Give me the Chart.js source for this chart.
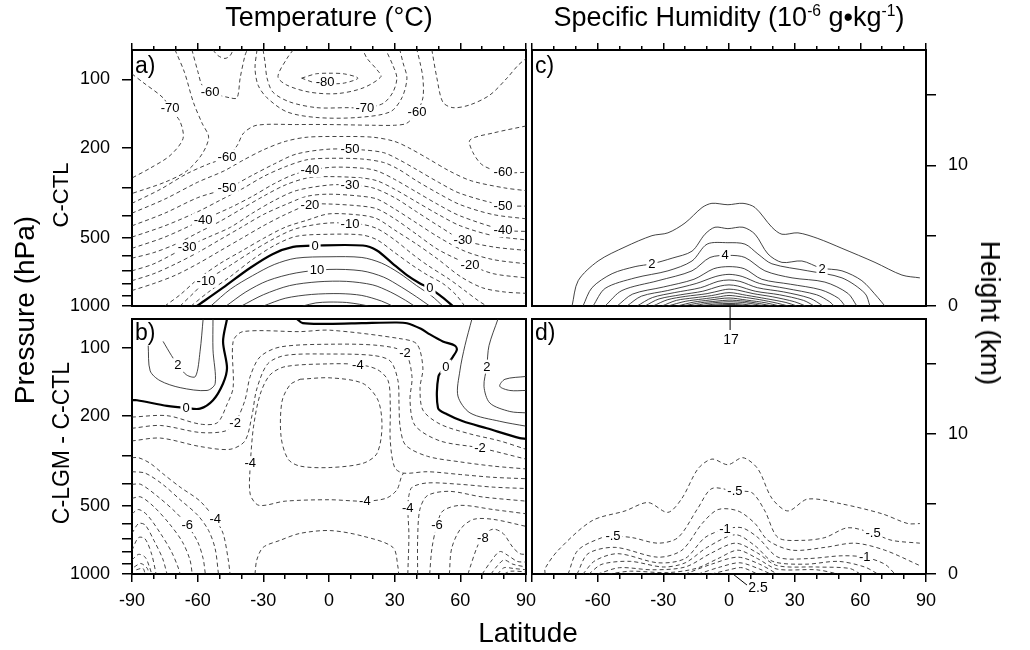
<!DOCTYPE html>
<html>
<head>
<meta charset="utf-8">
<script src="https://cdn.jsdelivr.net/npm/chart.js@4.4.1/dist/chart.umd.min.js"></script>
<style>
body { margin: 0; width: 1030px; height: 650px; background: #fff; position: relative; overflow: hidden;
       font-family: "Liberation Sans", Arial, Helvetica, sans-serif; color: #000; }
canvas { position: absolute; left: 0; top: 0; }
.t { position: absolute; white-space: nowrap; line-height: 1; transform: translate(-50%, -50%); }
.up { transform: translate(-50%, -50%) rotate(-90deg); }
.down { transform: translate(-50%, -50%) rotate(90deg); }
.p { position: absolute; line-height: 1; font-size: 23px; }
sup { font-size: 58%; vertical-align: 10px; }
</style>
</head>
<body>
<canvas id="panelA" width="1030" height="650"></canvas>
<canvas id="panelB" width="1030" height="650"></canvas>
<canvas id="panelC" width="1030" height="650"></canvas>
<canvas id="panelD" width="1030" height="650"></canvas>

<div class="t" style="left:329px;top:17px;font-size:27px">Temperature (°C)</div>
<div class="t" style="left:729px;top:17px;font-size:27px">Specific Humidity (10<sup>-6</sup> g•kg<sup>-1</sup>)</div>
<div class="t" style="left:528px;top:633px;font-size:28px">Latitude</div>
<div class="t up" style="left:25px;top:310px;font-size:28px">Pressure (hPa)</div>
<div class="t up" style="left:61px;top:195px;font-size:22px">C-CTL</div>
<div class="t up" style="left:61px;top:443px;font-size:23px">C-LGM - C-CTL</div>
<div class="t down" style="left:990px;top:313px;font-size:28px">Height (km)</div>
<div class="p" style="left:135px;top:54px">a)</div>
<div class="p" style="left:135px;top:321px">b)</div>
<div class="p" style="left:535px;top:54px">c)</div>
<div class="p" style="left:535px;top:321px">d)</div>

<script>
// axis values
const latMajor = [-90, -60, -30, 0, 30, 60, 90];
const latMinor = [-80, -70, -50, -40, -20, -10, 10, 20, 40, 50, 70, 80];
const latLabeledLeft = [-90, -60, -30, 0, 30, 60, 90];
const latLabeledRight = [-60, -30, 0, 30, 60, 90];
const pressureTicks = [100, 200, 300, 400, 500, 600, 700, 800, 900, 1000];
const pressureLabeled = [100, 200, 500, 1000];
const heightTicks = [0, 5, 10, 15];
const heightLabeled = [0, 10];

// contours: [level, [[latitude, height km], ...]]
const tempContours = [
  [25, [[-12,0],[-6,0.22],[0,0.28],[8,0.25],[14,0.12],[18,0]]],
  [20, [[-30,0],[-20,0.55],[-8,0.82],[5,0.88],[15,0.75],[24,0.35],[29,0]]],
  [15, [[-40,0],[-30,0.8],[-18,1.45],[-5,1.72],[8,1.75],[20,1.5],[28,1.0],[35,0.4],[39,0]]],
  [10, [[-47,0],[-38,1.0],[-28,1.8],[-15,2.35],[0,2.6],[15,2.5],[25,2.05],[33,1.35],[40,0.65],[46,0]]],
  [5, [[-54,0],[-45,1.2],[-35,2.15],[-25,2.95],[-15,3.4],[0,3.5],[15,3.45],[24,3.05],[32,2.35],[40,1.45],[47,0.7],[52,0]]],
  [0, [[-60.3,0],[-48.4,1.3],[-36.1,2.7],[-25.6,3.7],[-16.4,4.2],[-6.4,4.3],[15.5,4.3],[21.9,3.95],[29.2,3.0],[35.6,2.2],[41.6,1.6],[46.1,1.25],[50.7,0.75],[56.6,0]]],
  [-5, [[-63,0],[-55,1.0],[-45,2.1],[-35,3.3],[-25,4.3],[-15,4.95],[0,5.1],[15,5.05],[22,4.7],[30,3.8],[38,2.9],[45,2.2],[52,1.6],[58,0.8],[62,0]]],
  [-10, [[-68,0],[-62,0.9],[-56,1.8],[-45,2.9],[-35,3.9],[-25,4.8],[-15,5.5],[0,5.9],[15,5.8],[22,5.5],[30,4.7],[38,3.7],[45,2.9],[55,1.9],[62,1.1],[68,0.4],[72,0]]],
  [-15, [[-75,0],[-68,0.8],[-60,1.9],[-50,3.0],[-40,3.9],[-30,4.8],[-20,5.6],[-10,6.1],[0,6.55],[15,6.45],[22,6.2],[30,5.4],[40,4.4],[50,3.3],[60,2.1],[70,1.3],[80,1.0],[90,0.9]]],
  [-20, [[-90,1.1],[-80,1.6],[-70,2.2],[-60,3.0],[-50,3.9],[-40,4.8],[-30,5.7],[-20,6.5],[-9,7.2],[0,7.25],[15,7.1],[22,6.9],[30,6.2],[40,5.1],[50,4.0],[64,2.95],[75,2.3],[90,2.0]]],
  [-25, [[-90,1.8],[-80,2.3],[-70,3.0],[-60,3.8],[-50,4.7],[-40,5.6],[-30,6.5],[-20,7.2],[-10,7.8],[0,7.95],[15,7.8],[22,7.6],[30,6.9],[40,5.9],[50,4.9],[62,3.9],[75,3.3],[90,3.0]]],
  [-30, [[-90,2.5],[-80,3.0],[-65,4.2],[-55,4.9],[-45,5.6],[-35,6.6],[-25,7.5],[-15,8.2],[0,8.6],[10,8.6],[20,8.4],[30,7.7],[40,6.7],[50,5.7],[61,4.7],[75,4.2],[90,3.95]]],
  [-35, [[-90,3.4],[-80,3.8],[-70,4.4],[-60,5.2],[-50,6.0],[-40,6.9],[-30,7.8],[-20,8.6],[-10,9.1],[0,9.2],[15,9.1],[22,8.9],[30,8.3],[40,7.4],[50,6.5],[60,5.7],[75,5.0],[90,4.7]]],
  [-40, [[-90,4.1],[-75,4.9],[-58,6.1],[-45,7.0],[-35,7.8],[-25,8.7],[-15,9.4],[0,9.85],[15,9.8],[22,9.6],[30,9.0],[40,8.1],[50,7.2],[60,6.4],[80,5.4],[90,5.3]]],
  [-45, [[-90,4.9],[-75,5.7],[-60,6.7],[-50,7.5],[-40,8.3],[-30,9.2],[-20,9.9],[-10,10.4],[0,10.5],[15,10.45],[25,10.2],[32,9.7],[40,8.9],[50,8.0],[60,7.2],[75,6.5],[90,6.2]]],
  [-50, [[-90,5.7],[-75,6.6],[-60,7.7],[-46,8.4],[-35,9.3],[-25,10.1],[-15,10.8],[0,11.15],[15,11.1],[25,10.9],[32,10.4],[40,9.7],[50,8.8],[60,8.0],[80,7.15],[90,7.1]]],
  [-55, [[-90,6.6],[-75,7.6],[-60,8.8],[-48,9.6],[-40,10.3],[-30,11.1],[-20,11.7],[-10,12.0],[5,12.05],[20,12.0],[30,11.7],[37,11.2],[45,10.5],[55,9.6],[65,8.9],[80,8.4],[90,8.2]]],
  [-60, [[-90,7.3],[-77,8.3],[-65,9.4],[-55,10.1],[-46.6,10.6],[-42,11.4],[-39,12.3],[-33,12.85],[-15,12.9],[0,12.9],[20,12.85],[30,12.85],[35.6,13.0],[40.2,13.8],[42.9,14.8],[42.9,16.2],[41.6,17.3],[40.2,18.2]]],
  [-60, [[-62.6,18.2],[-59.8,16.6],[-58,15.7],[-54.3,15.2],[-45.2,14.8],[-42,14.8],[-40.6,16.2],[-38.4,17.8],[-37.4,18.2]]],
  [-60, [[90,12.8],[75,12.3],[64.4,11.8],[65.8,10.9],[70.3,10.0],[79.5,9.5],[90,9.5]]],
  [-55, [[-53,18.2],[-50.7,17.8],[-47.5,17.6],[-45.2,17.8],[-43.8,18.2]]],
  [-55, [[47,18.2],[49.3,16.2],[52,14.5],[56.6,14.1],[64.4,14.3],[73.5,15.0],[81.3,16.2],[86.3,17.1],[90,17.6]]],
  [-65, [[-32.9,18.2],[-33.8,16.9],[-32.4,15.7],[-28.3,14.8],[-19.2,13.8],[-5.5,13.4],[12.8,13.4],[27.9,13.8],[33.3,14.8],[35.6,16.2],[33.8,17.3],[32.4,18.2]]],
  [-65, [[-70.3,18.2],[-66,16.6],[-62,14.5],[-58,13.0],[-55,12.0],[-58,10.8],[-65,9.6],[-75,8.8],[-90,8.0]]],
  [-70, [[-30.1,18.2],[-29.2,17.3],[-28.3,16.2],[-25.6,15.2],[-17.8,14.5],[-5.5,14.1],[8.2,14.1],[16.4,14.1],[24.7,14.4],[29.2,15.2],[31,16.2],[29.2,17.1],[26,18.2]]],
  [-70, [[-90,16.5],[-85,15.9],[-75.8,14.8],[-72.6,14.05],[-68,13.1],[-66.7,11.9],[-72.6,10.7],[-81.7,9.8],[-90,9.1]]],
  [-75, [[-16.4,18.2],[-19.2,17.6],[-23.3,16.3],[-19.2,15.7],[-8.7,15.2],[3.7,15.1],[15.5,15.5],[23.7,16.3],[21.9,16.8],[17.4,17.6],[15.5,18.2]]],
  [-80, [[-12.5,16.2],[-6,16.5],[0,16.55],[7,16.5],[13.2,16.2],[7,15.85],[0,15.8],[-6,15.85],[-12.5,16.2]]]
];
const tempLabels = [
  ['-80',-1.8,15.95],['-70',16.4,14.1],['-60',40.2,13.8],['-60',-54.3,15.2],['-70',-72.6,14.05],
  ['-60',-46.6,10.6],['-50',-46.6,8.4],['-40',-57.5,6.1],['-30',-64.8,4.2],['-10',-56.2,1.8],
  ['-50',9.6,11.15],['-40',-8.7,9.65],['-30',9.6,8.6],['-20',-8.7,7.2],['-10',9.6,5.85],['0',-6.4,4.3],['10',-5.5,2.55],
  ['-60',79.5,9.5],['-50',79.5,7.15],['-40',79.5,5.4],['-30',61.2,4.7],['-20',64.4,2.95],['0',46.1,1.25]
];

const dTempContours = [
  [3, [[90,14.1],[80.4,13.9],[78,13.4],[82.6,13.1],[90,13.1]]],
  [2, [[77.2,18.2],[73.1,16.3],[72.1,14.8],[70.8,13.4],[73.5,12.2],[82.6,11.6],[90,11.5]]],
  [1, [[65.3,18.2],[62.1,16.3],[59.8,14.5],[58.9,12.7],[64.4,11.5],[78,10.9],[90,10.55]]],
  [2, [[-75.8,16.6],[-72,15.6],[-69,14.9],[-65,14.2],[-61,14.1],[-58.9,15.9],[-57.5,18.2]]],
  [1, [[-82.6,16.3],[-81.7,14.5],[-77.2,13.8],[-68,13.3],[-55.7,13.1],[-52,13.6],[-53,16],[-53,18.2]]],
  [0, [[-90,12.4],[-87.7,12.4],[-74,12.0],[-65.3,11.85],[-58.9,11.8],[-53,12.4],[-48.4,13.6],[-46.6,14.7],[-48.4,16.6],[-46.6,18.2]]],
  [0, [[-14.6,18.2],[-12,17.9],[0,17.85],[15,17.9],[30,17.95],[35.6,17.9],[42,17.5],[46.1,17.1],[52,16.6],[57.5,16.3],[58.4,16.0],[56.6,15.5],[53.4,14.8],[50,14.1],[49.8,11.85],[53.9,11.4],[61.2,10.9],[72.1,10.4],[87.2,9.7],[90,9.65]]],
  [-1, [[-90,11.2],[-74,11.3],[-58.9,10.7],[-51,10.8],[-46.6,12.1],[-43.8,13.3],[-43.8,16.6],[-39.3,17.3],[-13.2,17.3],[0.5,17.4],[32.4,16.8],[40.2,16.4],[42.9,14.7],[41.6,13.3],[42.9,11.7],[50.7,10.7],[64.4,10.0],[78,9.5],[90,8.9]]],
  [-2, [[-90,10.4],[-77,10.6],[-58.9,10.1],[-47.5,10.2],[-42.9,10.8],[-38.4,12.4],[-36,14.1],[-31.5,15.5],[-22.4,16.2],[0.5,16.4],[23.3,16.3],[34.7,15.8],[37.9,14.1],[37,12.4],[39.3,10.6],[50.7,9.5],[69,9.0],[90,8.2]]],
  [-3, [[-90,9.5],[-77,9.7],[-58.9,9.1],[-45.2,8.9],[-38.4,9.5],[-35.2,11.3],[-33,13.2],[-28,15.0],[-20,15.6],[0,15.7],[20,15.6],[28,15.2],[31.5,13.8],[32,12],[32.5,10.5],[35,9.2],[45,8.4],[60,8.0],[75,7.7],[90,7.5]]],
  [-4, [[-36,7.9],[-34.5,10.5],[-31.5,12.8],[-27,14.2],[-20,14.8],[0,15.0],[13.2,14.95],[22,14.6],[27,13.8],[28,12],[28,9.5],[30,7.6],[34,7.2],[45,7.3],[60,7.1],[75,6.9],[90,6.8]]],
  [-4, [[-36,7.9],[-36,5.7],[-32,4.9],[-20,5.2],[0,5.3],[16,5.2],[26,5.4],[31,6.0],[33,6.9],[34,7.2]]],
  [-5, [[-13.2,13.9],[0.5,14.0],[15.5,13.6],[22.4,12.4],[24.2,10.5],[21.9,8.6],[15.5,7.9],[0.5,7.6],[-13.2,7.7],[-18.7,8.2],[-21.9,9.8],[-21.5,12.3],[-17.8,13.5],[-13.2,13.9]]],
  [-3, [[-33.8,0],[-33,1.0],[-30.1,1.9],[-22.4,2.4],[-13.2,2.9],[0.5,3.1],[15.5,2.7],[29.2,1.9],[31.5,0.5],[31.8,0]]],
  [-4, [[36,0],[36.5,2.8],[36,4.7],[36.5,5.6],[38,6.2],[45,6.5],[60,6.4],[75,6.2],[90,6.1]]],
  [-5, [[40.5,0],[40.5,2.5],[41.5,4.6],[45,5.6],[55,5.9],[70,5.5],[90,5.2]]],
  [-6, [[46,0],[47,1.8],[49.3,3.5],[52,4.5],[60,4.9],[75,4.6],[90,4.3]]],
  [-7, [[55,0],[56,1.8],[60,3.2],[66,3.9],[75,3.9],[90,3.4]]],
  [-8, [[63.5,0],[64.4,0.45],[67.6,1.9],[70.3,2.7],[74.9,3.2],[79.5,2.9],[84,1.9],[87.2,1.45],[90,1.4]]],
  [-9, [[70,0],[74,0.9],[78,1.6],[82,1.3],[86,0.9],[90,0.85]]],
  [-10, [[74,0],[77,0.6],[80,1.0],[84,0.7],[90,0.5]]],
  [-11, [[77,0],[80,0.45],[84,0.4],[90,0.3]]],
  [-12, [[80,0],[83,0.2],[90,0.15]]],
  [-4, [[-90,8.3],[-87,8.3],[-81.7,7.9],[-75.8,7.15],[-68,6.2],[-58.9,5.2],[-52,3.9],[-48.4,2.9],[-46,1.0],[-45.2,0]]],
  [-5, [[-90,7.3],[-84,7.2],[-76,6.4],[-68,5.3],[-60,4.2],[-55,3.1],[-52,1.8],[-50.5,0]]],
  [-6, [[-90,6.4],[-86,6.4],[-78,5.5],[-70,4.4],[-64.8,3.5],[-60,2.3],[-57.5,1.1],[-56.5,0]]],
  [-7, [[-90,5.4],[-86,5.5],[-80,4.8],[-73,3.6],[-67,2.3],[-63.5,1.0],[-62.5,0]]],
  [-8, [[-90,4.3],[-87,4.6],[-83,4.2],[-77,2.9],[-72,1.6],[-69,0.5],[-68,0]]],
  [-9, [[-90,2.9],[-87,3.6],[-84,3.5],[-80,2.4],[-76,1.1],[-74,0]]],
  [-10, [[-90,1.7],[-87,2.6],[-84,2.5],[-81,1.4],[-79,0]]],
  [-11, [[-90,1.0],[-87,1.4],[-84,1.2],[-82,0.5],[-81,0]]],
  [-12, [[-89,0.5],[-86,0.75],[-83,0.4],[-82.5,0]]],
  [-14, [[-88,0.3],[-85,0.4],[-84,0]]]
];
const dTempLabels = [
  ['2',-69,14.9],['0',-65.3,11.85],['-2',-42.9,10.8],['-4',-36,7.9],['-6',-64.8,3.5],['-4',-52,3.9],
  ['-4',13.2,14.95],['-2',34.7,15.8],['0',53.4,14.8],['2',72.1,14.8],['-2',69,9.0],
  ['-4',16.4,5.25],['-4',36,4.7],['-6',49.3,3.5],['-8',70.3,2.6]
];

const humContours = [
  [1, [[-71.7,0],[-68.9,1.8],[-59.8,3.2],[-47.5,4.2],[-35.2,5.0],[-27.9,5.2],[-20.1,5.9],[-12.3,7.0],[-7.8,7.3],[-0.5,7.2],[6.4,7.3],[11.9,7.0],[19.6,5.6],[24.2,5.1],[31.5,5.2],[40.6,4.8],[51.6,4.1],[66.7,3.1],[79,2.2],[87.2,2.0]]],
  [2, [[-66.7,0],[-62.6,1.3],[-53.4,2.3],[-42.9,2.8],[-35.2,3.0],[-26,3.4],[-16.9,3.9],[-11,5.1],[-6.4,5.6],[-0.5,5.5],[6.4,5.6],[11.9,5.1],[17.8,3.7],[24.2,3.1],[33.3,3.2],[42,2.7],[51.6,2.5],[60.7,1.8],[68,0.6],[71.2,0]]],
  [3, [[-62.1,0],[-56.6,1.25],[-42.9,2.0],[-27.9,2.5],[-16.9,3.2],[-10,4.4],[-0.5,4.5],[7.3,4.4],[13.2,3.7],[19.6,3.0],[36,2.5],[51.6,2.0],[62.1,0.9],[64.4,0]]],
  [4, [[-56.6,0],[-48.9,1.1],[-32.4,1.8],[-16.9,2.5],[-8.7,3.45],[0,3.6],[7.3,3.45],[16.4,2.5],[28.8,2.0],[43.8,1.7],[54.3,0.9],[58.4,0]]],
  [5, [[-51.1,0],[-44,0.85],[-30,1.35],[-16,1.9],[-7,2.65],[0,2.8],[7,2.65],[15,1.9],[28,1.55],[42,1.15],[50,0.55],[53,0]]],
  [6, [[-46.6,0],[-40,0.7],[-28,1.1],[-15,1.6],[-6,2.1],[0,2.25],[6,2.1],[14,1.6],[26,1.25],[40,0.8],[46,0.3],[48,0]]],
  [7, [[-42,0],[-35,0.6],[-25,0.95],[-13,1.3],[-5,1.75],[0,1.85],[5,1.75],[13,1.3],[25,1.0],[37,0.55],[43,0]]],
  [8, [[-38.4,0],[-32,0.5],[-22,0.8],[-12,1.05],[-4,1.42],[0,1.5],[4,1.42],[12,1.05],[23,0.8],[34,0.4],[39,0]]],
  [9, [[-34.7,0],[-28,0.45],[-20,0.68],[-10,0.88],[-3,1.13],[0,1.2],[4,1.13],[11,0.88],[20,0.65],[30,0.3],[35,0]]],
  [10, [[-30.6,0],[-24,0.4],[-16,0.58],[-8,0.74],[0,0.95],[8,0.76],[17,0.52],[26,0.25],[31,0]]],
  [11, [[-27.9,0],[-20,0.33],[-12,0.5],[-5,0.64],[0,0.75],[6,0.64],[14,0.45],[22,0.2],[27,0]]],
  [12, [[-23.7,0],[-16,0.28],[-9,0.42],[0,0.57],[8,0.42],[17,0.22],[23,0]]],
  [13, [[-21,0],[-13,0.23],[-6,0.34],[0,0.42],[7,0.34],[14,0.17],[20,0]]],
  [14, [[-16.9,0],[-10,0.18],[0,0.3],[8,0.22],[16,0]]],
  [15, [[-13.2,0],[-6,0.14],[0,0.18],[6,0.14],[12,0]]],
  [16, [[-9.6,0],[-3,0.09],[3,0.1],[8,0]]],
  [17, [[-6.4,0],[0,0.04],[5,0]]]
];
const humLabels = [['2',-35.2,3.0],['4',-1.8,3.6],['2',42.5,2.65]];
const humPeak = ['17', 0.5, 0];

const dHumContours = [
  [-0.25, [[-84,0],[-84,0.4],[-78,1.7],[-62.6,3.8],[-47.5,4.5],[-37,5.1],[-27.9,4.4],[-21.5,5.4],[-14.2,7.5],[-7.8,8.2],[-0.5,7.8],[6.4,8.3],[13.2,7.5],[19.6,5.4],[26.9,4.5],[36,5.35],[51.6,5.0],[69.9,4.3],[81.7,3.6],[87.2,3.6]]],
  [-0.5, [[-73.5,0],[-69,1.7],[-58,2.6],[-53,2.7],[-44.3,2.6],[-32.4,2.2],[-23.3,2.6],[-14.2,4.7],[-7.8,6.1],[2.7,5.9],[10.5,5.8],[16.4,4.5],[22.4,2.6],[33.3,2.4],[43.8,2.6],[54.3,3.3],[65.8,2.9],[74.4,2.4],[87.2,2.2]]],
  [-0.75, [[-69.4,0],[-64.4,1.45],[-52,1.9],[-32.4,1.2],[-21.5,1.7],[-12.3,3.6],[-5,4.6],[4.1,4.5],[11.9,3.6],[17.8,2.4],[28.8,1.7],[43.8,1.9],[57.5,2.2],[71.2,1.7],[87.2,0.6]]],
  [-1, [[-66.7,0],[-61.2,0.95],[-50.7,1.45],[-32.4,0.8],[-20.1,1.1],[-11,2.6],[-1.8,3.2],[5.9,3.3],[13.2,2.6],[22.4,1.2],[36,1.1],[51.6,1.3],[62,1.2],[71.2,0.7],[75.8,0]]],
  [-1.25, [[-64,0],[-58,0.7],[-45,0.9],[-30,0.5],[-20,0.8],[-10,1.9],[3,2.8],[12,2.0],[20,0.9],[35,0.7],[50,0.9],[62,0.5],[68,0]]],
  [-1.5, [[-60,0],[-50,0.45],[-35,0.3],[-20,0.5],[-8,1.5],[3,2.2],[13,1.5],[22,0.6],[40,0.5],[55,0.4],[60,0]]],
  [-1.75, [[-55,0],[-45,0.2],[-28,0.1],[-15,0.4],[-5,1.1],[4,1.7],[13,1.1],[22,0.35],[40,0.3],[50,0]]],
  [-2, [[-20,0],[-8,0.7],[4,1.2],[14,0.7],[22,0]]],
  [-2.25, [[-14,0],[-4,0.5],[5,0.8],[14,0.35],[19,0]]],
  [-2.5, [[-8,0],[0,0.3],[6,0.45],[13,0]]]
];
const dHumLabels = [['-.5',-53,2.7],['-.5',2.7,5.9],['-.5',65.8,2.9],['-1',-1.8,3.2],['-1',62,1.25]];
const dHumPeak = ['2.5', 1.8, 0];

const SCALE_HEIGHT = 7;
const Y_MAX = 18.2;
const pressureKm = pressureTicks.map(p => SCALE_HEIGHT * Math.log(1000 / p));
const FONT = '"Liberation Sans", Arial, Helvetica, sans-serif';
const Y_BOX = 70, X_BOX = 45;   // room for tick labels

function fitTo(size) {
  return s => { if (s.isHorizontal()) s.height = size; else s.width = size; };
}

function frameAxis(axis, pos) {
  return {
    axis, type: 'linear', position: pos, weight: 0,
    min: axis === 'x' ? -90 : 0, max: axis === 'x' ? 90 : Y_MAX,
    ticks: { display: false },
    grid: { display: false },
    border: { display: true, color: '#000', width: 2 },
    afterFit: fitTo(0)
  };
}

function tickAxis(axis, pos, values, len, labelFn, withBorder) {
  return {
    axis, type: 'linear', position: pos, weight: labelFn ? 1 : 0,
    min: axis === 'x' ? -90 : 0, max: axis === 'x' ? 90 : Y_MAX,
    afterBuildTicks: s => { s.ticks = values.map(v => ({ value: v })); },
    ticks: {
      display: !!labelFn, autoSkip: false, maxRotation: 0, minRotation: 0,
      padding: axis === 'x' ? 8 : 12, color: '#000',
      font: { family: FONT, size: 18 },
      callback: (v, i) => labelFn ? labelFn(v, i) : ''
    },
    grid: { display: true, drawOnChartArea: false, drawTicks: true, tickLength: len,
            color: '#000', lineWidth: 1.5, tickWidth: 1.5 },
    border: { display: withBorder, color: '#000', width: 2 },
    afterFit: fitTo(labelFn ? (axis === 'x' ? X_BOX : Y_BOX) : 0)
  };
}

const pressureLabel = (v, i) => pressureLabeled.includes(pressureTicks[i]) ? String(pressureTicks[i]) : '';
const heightLabel = (v, i) => heightLabeled.includes(heightTicks[i]) ? String(heightTicks[i]) : '';
const latLabel = shown => v => shown.includes(v) ? String(v) : '';

function contourSets(list) {
  return list.map(([lev, pts]) => ({
    data: pts.map(([x, y]) => ({ x, y })),
    showLine: true,
    pointRadius: 0,
    tension: 0.3,
    borderColor: lev === 0 ? '#000' : '#222',
    borderWidth: lev === 0 ? 2.2 : 0.85,
    borderDash: lev < 0 ? [4, 3] : []
  }));
}

function labelPlugin(labels, peak, leader) {
  return {
    id: 'contourLabels',
    afterDatasetsDraw(chart) {
      const { ctx, scales: { x, y } } = chart;
      ctx.save();
      ctx.font = '13px ' + FONT;
      ctx.textAlign = 'center';
      ctx.textBaseline = 'middle';
      labels.forEach(([txt, lat, km]) => {
        const px = x.getPixelForValue(lat), py = y.getPixelForValue(km);
        const w = ctx.measureText(txt).width;
        ctx.fillStyle = '#fff';
        ctx.fillRect(px - w / 2 - 2, py - 7, w + 4, 14);
        ctx.fillStyle = '#000';
        ctx.fillText(txt, px, py + 0.5);
      });
      ctx.restore();
    },
    afterDraw(chart) {
      if (!peak) return;
      const { ctx, scales: { x, y } } = chart;
      const [txt, lat, km] = peak;
      const px = x.getPixelForValue(lat), py = y.getPixelForValue(km);
      ctx.save();
      ctx.strokeStyle = '#000';
      ctx.lineWidth = 1;
      ctx.beginPath();
      ctx.moveTo(px, py);
      ctx.lineTo(px + leader[0], py + leader[1]);
      ctx.stroke();
      ctx.font = '14px ' + FONT;
      ctx.fillStyle = '#000';
      ctx.textAlign = 'center';
      ctx.textBaseline = 'middle';
      ctx.fillText(txt, px + leader[2], py + leader[3]);
      ctx.restore();
    }
  };
}

// area = [left, top, right, bottom] of the plot box; boxes = label room [left, right, bottom]
function makePanel(id, area, boxes, contours, labels, scales, peak, leader) {
  return new Chart(document.getElementById(id), {
    type: 'scatter',
    data: { datasets: contourSets(contours) },
    options: {
      responsive: false,
      animation: false,
      events: [],
      devicePixelRatio: 1,
      layout: { padding: {
        left: area[0] - boxes[0], top: area[1],
        right: 1030 - area[2] - boxes[1], bottom: 650 - area[3] - boxes[2] } },
      plugins: { legend: { display: false }, tooltip: { enabled: false } },
      scales
    },
    plugins: [labelPlugin(labels, peak, leader)]
  });
}

makePanel('panelA', [132, 50, 526, 306], [Y_BOX, 0, 0], tempContours, tempLabels, {
  xtm: tickAxis('x', 'top', latMinor, 4, null, false),
  xt: tickAxis('x', 'top', latMajor, 7, null, true),
  x: frameAxis('x', 'bottom'),
  y: tickAxis('y', 'left', pressureKm, 10, pressureLabel, true),
  yr: frameAxis('y', 'right')
});

makePanel('panelB', [132, 319, 526, 574], [Y_BOX, 0, X_BOX], dTempContours, dTempLabels, {
  xm: tickAxis('x', 'bottom', latMinor, 5, null, false),
  x: tickAxis('x', 'bottom', latMajor, 8, latLabel(latLabeledLeft), true),
  xt: frameAxis('x', 'top'),
  y: tickAxis('y', 'left', pressureKm, 10, pressureLabel, true),
  yr: frameAxis('y', 'right')
});

makePanel('panelC', [532, 50, 926, 306], [0, Y_BOX, 0], humContours, humLabels, {
  xtm: tickAxis('x', 'top', latMinor, 4, null, false),
  xt: tickAxis('x', 'top', latMajor, 7, null, true),
  x: frameAxis('x', 'bottom'),
  y: frameAxis('y', 'left'),
  yr: tickAxis('y', 'right', heightTicks, 10, heightLabel, true)
}, humPeak, [0, 24, 1, 34]);

makePanel('panelD', [532, 319, 926, 574], [0, Y_BOX, X_BOX], dHumContours, dHumLabels, {
  xm: tickAxis('x', 'bottom', latMinor, 5, null, false),
  x: tickAxis('x', 'bottom', latMajor, 8, latLabel(latLabeledRight), true),
  xt: frameAxis('x', 'top'),
  y: frameAxis('y', 'left'),
  yr: tickAxis('y', 'right', heightTicks, 10, heightLabel, true)
}, dHumPeak, [14, 11, 25, 14]);
</script>
</body>
</html>
